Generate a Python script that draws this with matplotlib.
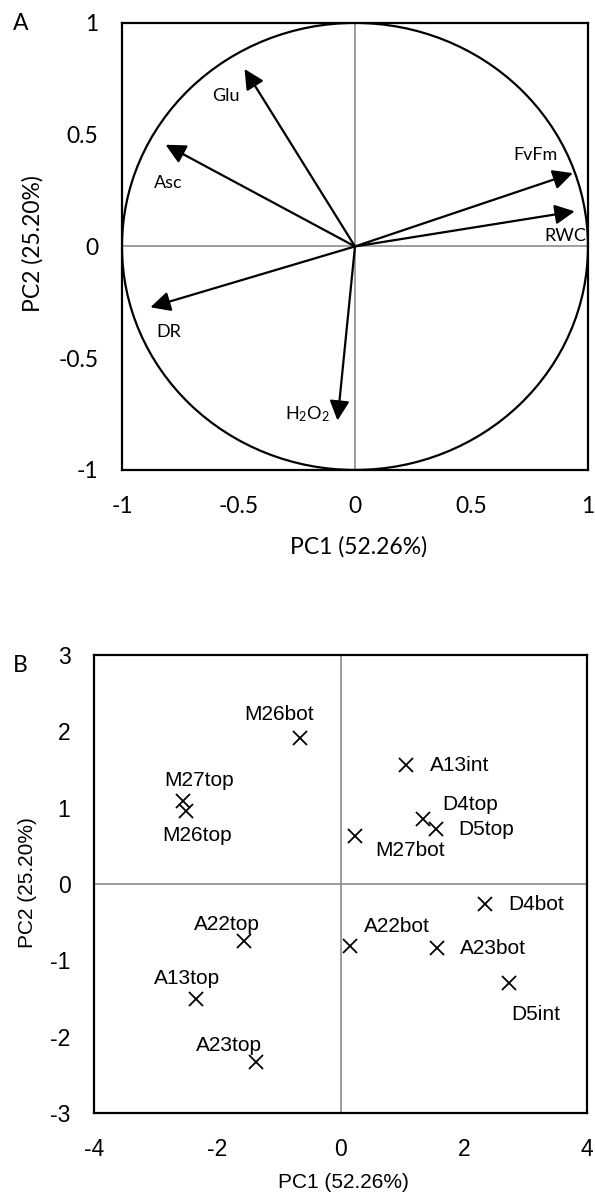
import matplotlib
matplotlib.use('Agg')
import matplotlib.pyplot as plt
from matplotlib.patches import Circle

# loadings (panel A)
variables = ['Glu', 'Asc', 'FvFm', 'RWC', 'DR', r'$\mathregular{H_2O_2}$']
load_pc1 = [-0.474, -0.813, 0.935, 0.943, -0.878, -0.075]
load_pc2 = [0.794, 0.455, 0.328, 0.157, -0.272, -0.779]

# scores (panel B)
samples = ['M26bot', 'M27top', 'M26top', 'A13int', 'D4top', 'D5top', 'M27bot',
           'D4bot', 'A22top', 'A22bot', 'A23bot', 'D5int', 'A13top', 'A23top']
score_pc1 = [-0.65, -2.55, -2.50, 1.07, 1.34, 1.55, 0.23,
             2.35, -1.57, 0.16, 1.56, 2.73, -2.35, -1.37]
score_pc2 = [1.91, 1.09, 0.96, 1.56, 0.85, 0.72, 0.63,
             -0.26, -0.74, -0.81, -0.84, -1.30, -1.51, -2.33]

pc1_label = 'PC1 (52.26%)'
pc2_label = 'PC2 (25.20%)'

# label offsets (data units)
a_off = [(-0.08, -0.12), (0.01, -0.17), (-0.16, 0.08), (-0.04, -0.11),
         (0.08, -0.11), (-0.13, 0.03)]
b_off = [(-0.34, 0.31), (0.25, 0.27), (0.18, -0.32), (0.86, -0.01),
         (0.77, 0.19), (0.82, -0.01), (0.90, -0.19), (0.83, -0.01),
         (-0.27, 0.21), (0.75, 0.25), (0.91, -0.01), (0.43, -0.41),
         (-0.14, 0.27), (-0.44, 0.21)]

cal = ['Lato', 'DejaVu Sans']
ari = ['Liberation Sans', 'DejaVu Sans']
plt.rcParams['font.family'] = cal
plt.rcParams['mathtext.default'] = 'regular'
plt.rcParams['axes.unicode_minus'] = False

fig = plt.figure(figsize=(5.95, 11.94), dpi=100)

# ---- panel A ----
ax = fig.add_axes([0.2050, 0.6064, 0.7832, 0.3744])
ax.set_xlim(-1, 1)
ax.set_ylim(-1, 1)
ax.axhline(0, color='#8c8c8c', lw=1.2, zorder=1)
ax.axvline(0, color='#8c8c8c', lw=1.2, zorder=1)
ax.add_patch(Circle((0, 0), 1, fill=False, ec='black', lw=1.6, zorder=2))
for name, x, y, (dx, dy) in zip(variables, load_pc1, load_pc2, a_off):
    ax.annotate('', xy=(x, y), xytext=(0, 0),
                arrowprops=dict(arrowstyle='-|>,head_length=0.6,head_width=0.3',
                                mutation_scale=20, color='black', lw=1.6,
                                shrinkA=0, shrinkB=0), zorder=3)
    ax.text(x + dx, y + dy, name, ha='center', va='center', fontsize=13,
            family=cal)
ax.set_xticks([-1, -0.5, 0, 0.5, 1])
ax.set_yticks([-1, -0.5, 0, 0.5, 1])
ax.set_xticklabels(['-1', '-0.5', '0', '0.5', '1'])
ax.set_yticklabels(['-1', '-0.5', '0', '0.5', '1'])
ax.tick_params(length=0, labelsize=16.5)
ax.tick_params(axis='x', pad=19)
ax.tick_params(axis='y', pad=17)
for s in ax.spines.values():
    s.set_linewidth(1.6)
fig.text(0.602, 0.542, pc1_label, ha='center', va='center', fontsize=16.5)
fig.text(0.055, 0.796, pc2_label, ha='center', va='center', fontsize=16.5,
         rotation=90)
fig.text(0.034, 0.980, 'A', ha='center', va='center', fontsize=16.5)

# ---- panel B ----
bx = fig.add_axes([0.1580, 0.0678, 0.8286, 0.3836])
bx.set_xlim(-4, 4)
bx.set_ylim(-3, 3)
bx.axhline(0, color='#8c8c8c', lw=1.2, zorder=1)
bx.axvline(0, color='#8c8c8c', lw=1.2, zorder=1)
bx.plot(score_pc1, score_pc2, 'x', color='black', ms=10, mew=1.3, zorder=3)
for name, x, y, (dx, dy) in zip(samples, score_pc1, score_pc2, b_off):
    bx.text(x + dx, y + dy, name, ha='center', va='center', fontsize=15,
            family=ari)
bx.set_xticks([-4, -2, 0, 2, 4])
bx.set_yticks([-3, -2, -1, 0, 1, 2, 3])
bx.tick_params(length=0, labelsize=16.5)
bx.tick_params(axis='x', pad=18)
bx.tick_params(axis='y', pad=17)
for lab in bx.get_xticklabels() + bx.get_yticklabels():
    lab.set_family(ari)
for s in bx.spines.values():
    s.set_linewidth(1.6)
fig.text(0.578, 0.010, pc1_label, ha='center', va='center', fontsize=15,
         family=ari)
fig.text(0.047, 0.2605, pc2_label, ha='center', va='center', fontsize=15,
         rotation=90, family=ari)
fig.text(0.034, 0.443, 'B', ha='center', va='center', fontsize=16.5)

fig.savefig('out.png', dpi=100)
